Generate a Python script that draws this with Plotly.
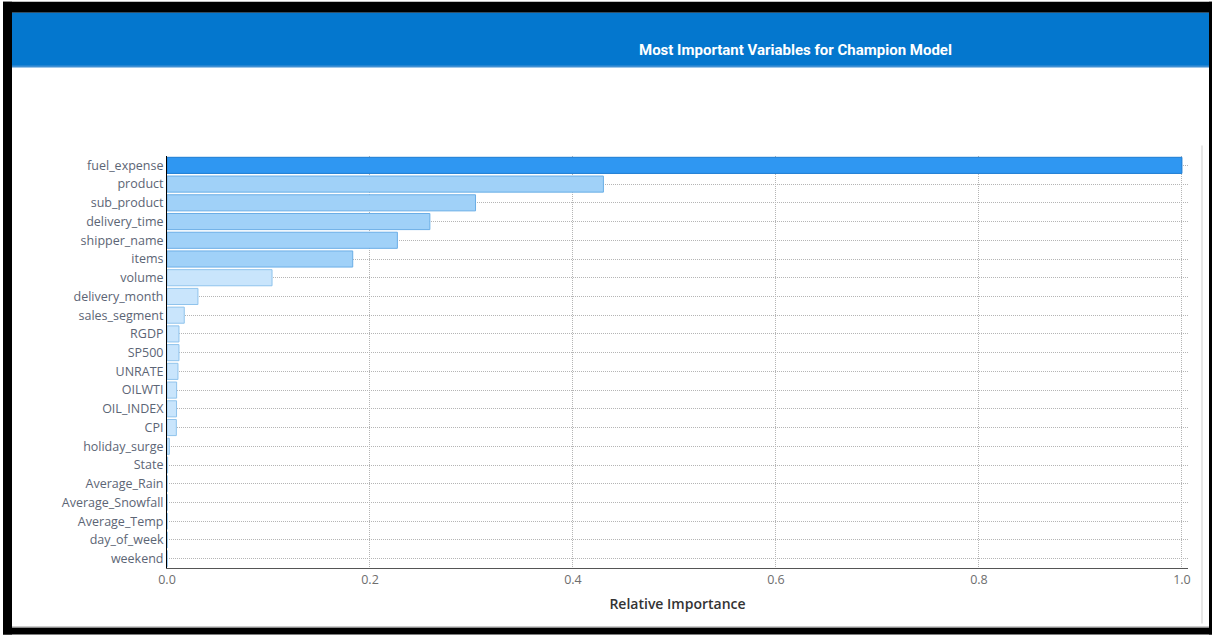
import plotly.graph_objects as go

variables = ["fuel_expense", "product", "sub_product", "delivery_time", "shipper_name",
             "items", "volume", "delivery_month", "sales_segment", "RGDP", "SP500",
             "UNRATE", "OILWTI", "OIL_INDEX", "CPI", "holiday_surge", "State",
             "Average_Rain", "Average_Snowfall", "Average_Temp", "day_of_week", "weekend"]
importance = [1.0, 0.430, 0.304, 0.259, 0.227, 0.183, 0.1035, 0.0305, 0.017, 0.0118,
              0.0118, 0.0108, 0.0095, 0.0094, 0.0092, 0.0023, 0.0006, 0.0002, 0.0002,
              0.0002, 0.0002, 0.0002]
x_ticks = [0.0, 0.2, 0.4, 0.6, 0.8, 1.0]
x_tick_labels = ["0.0", "0.2", "0.4", "0.6", "0.8", "1.0"]

W, H = 1212, 635
L, R, T, B = 167, 24, 155.6, 66.6
pw, ph = W - L - R, H - T - B


def px(x):
    return (x - L) / pw


def py(y):
    return 1 - (y - T) / ph


def fill_for(v):
    if v >= 0.9:
        return "#2F97F2"
    if v >= 0.15:
        return "#A0D1F8"
    return "#C9E5FC"


def line_for(v):
    if v >= 0.9:
        return "#1C7CD2"
    if v >= 0.15:
        return "#6AAEE6"
    return "#8FC3EC"


fig = go.Figure(go.Bar(
    x=importance, y=variables, orientation="h",
    marker=dict(color=[fill_for(v) for v in importance],
                line=dict(color=[line_for(v) for v in importance], width=1)),
    width=0.86,
    hoverinfo="x+y",
))

shapes = []


def rect(x0, y0, x1, y1, color, layer="above"):
    shapes.append(dict(type="rect", xref="paper", yref="paper",
                       x0=px(x0), x1=px(x1), y0=py(y1), y1=py(y0),
                       fillcolor=color, line=dict(width=0), layer=layer))


# black frame
rect(3, 1, 1212, 12, "#000000")
rect(3, 1, 12, 635, "#000000")
rect(1209, 1, 1212, 635, "#000000")
rect(3, 628, 1212, 635, "#000000")
rect(12, 627, 1209, 628, "#9a9a9a")
# blue header
rect(12, 12, 1209, 66, "#0477CE")
rect(12, 65, 1209, 67, "#3F8FD3")
# faint right border line
shapes.append(dict(type="line", xref="paper", yref="paper",
                   x0=px(1202), x1=px(1202), y0=py(145), y1=py(624),
                   line=dict(color="#E6E6E6", width=2)))

fig.update_layout(
    width=W, height=H,
    margin=dict(l=L, r=R, t=T, b=B, pad=0),
    paper_bgcolor="white", plot_bgcolor="white",
    showlegend=False,
    bargap=0.14,
    shapes=shapes,
    annotations=[dict(text="<b>Most Important Variables for Champion Model</b>",
                      xref="paper", yref="paper", x=px(795), y=py(49),
                      xanchor="center", yanchor="middle", showarrow=False,
                      font=dict(family="Roboto", size=15, color="white"))],
    xaxis=dict(range=[0, 1.006], tickvals=x_ticks, ticktext=x_tick_labels,
               showgrid=True, gridcolor="#B5B5B5", griddash="1px,1px", gridwidth=1,
               zeroline=False, showline=True, linecolor="#555555", linewidth=1,
               ticks="", tickfont=dict(family="Open Sans", size=12.5, color="#6E6E6E"),
               title=dict(text="Relative Importance", standoff=12,
                          font=dict(family="Open Sans", size=14, color="#333333", weight=600)),
               layer="above traces", fixedrange=True),
    yaxis=dict(autorange="reversed", showgrid=True, gridcolor="#B5B5B5", griddash="1px,1px",
               gridwidth=1, zeroline=False, showline=True, linecolor="#000000", linewidth=1,
               ticks="", tickfont=dict(family="Open Sans", size=12.5, color="#5C6575"),
               layer="above traces", fixedrange=True),
)

fig.write_html("out.html")
